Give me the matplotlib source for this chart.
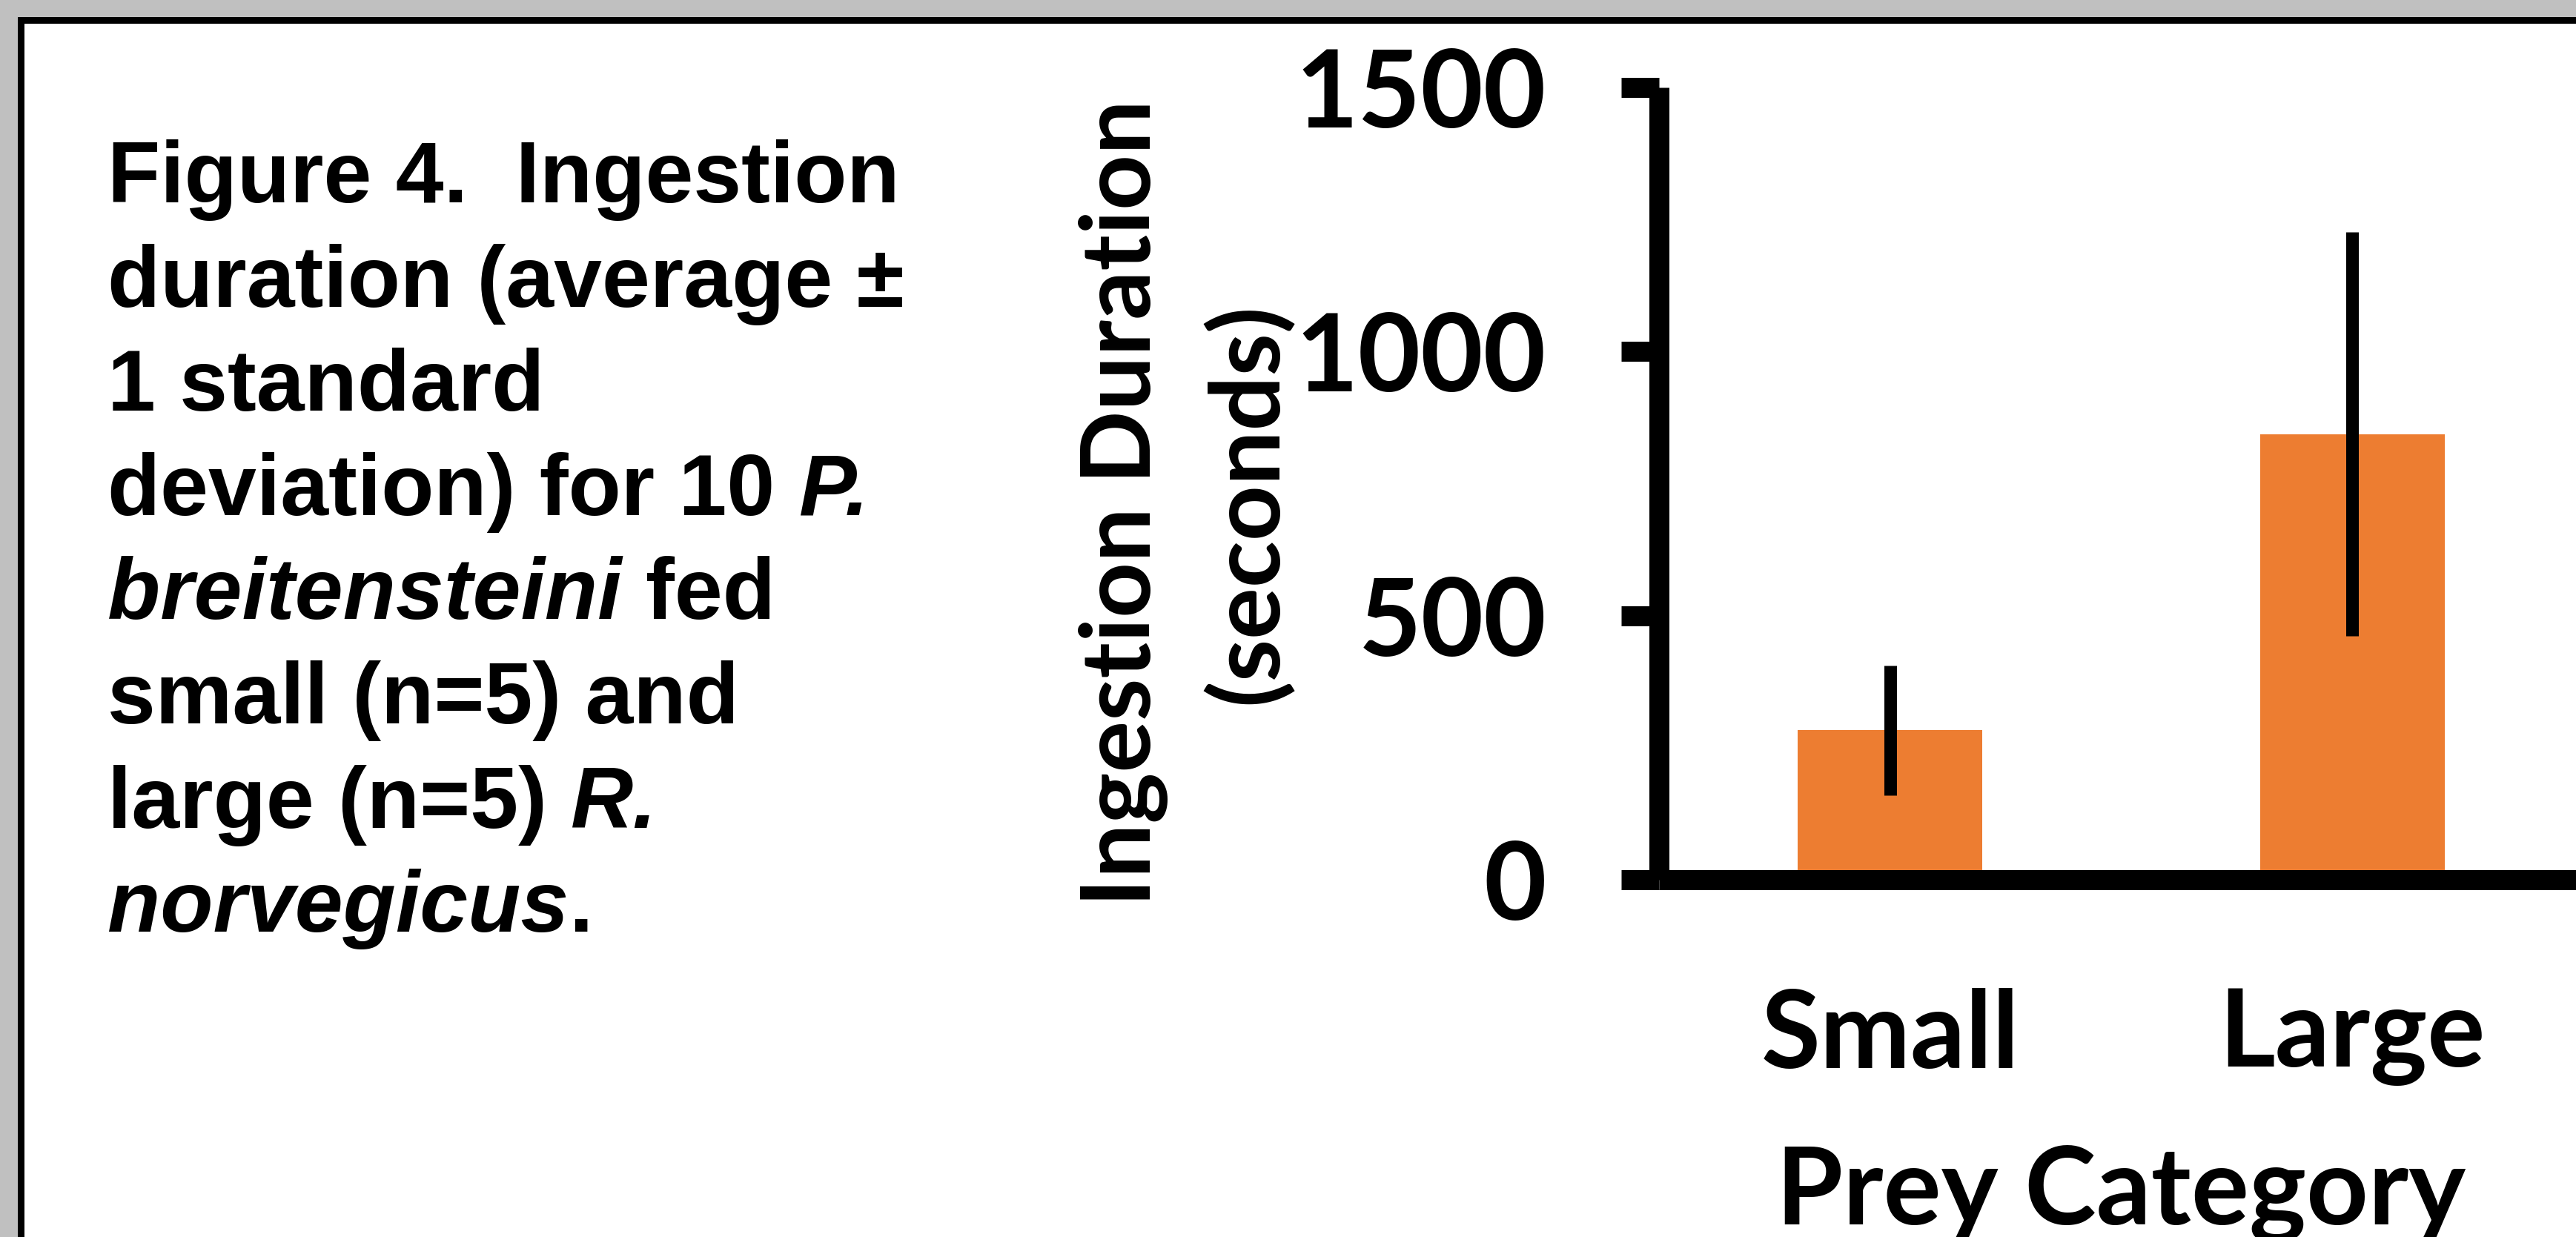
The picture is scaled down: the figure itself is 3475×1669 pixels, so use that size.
import matplotlib
matplotlib.use('Agg')
import matplotlib.pyplot as plt
from matplotlib.patches import Rectangle

W, H = 3475, 1669
DPI = 100

# dados
categories = ['Small', 'Large']
mean_duration = [283, 844]
sd_duration = [123, 382]
y_ticks = [0, 500, 1000, 1500]

# legenda à esquerda: (texto, itálico)
caption_lines = [
    [('Figure 4.  Ingestion', False)],
    [('duration (average \u00b1', False)],
    [('1 standard', False)],
    [('deviation) for 10 ', False), ('P.', True)],
    [('breitensteini', True), (' fed', False)],
    [('small (n=5) and', False)],
    [('large (n=5) ', False), ('R.', True)],
    [('norvegicus', True), ('.', False)],
]


def px2pt(p):
    return p * 72.0 / DPI


plt.rcParams['font.family'] = ['Lato', 'DejaVu Sans']
plt.rcParams['font.weight'] = 'bold'
plt.rcParams['axes.labelweight'] = 'bold'

fig = plt.figure(figsize=(W / DPI, H / DPI), dpi=DPI, facecolor='#c0c0c0')

# moldura branca com borda preta (só topo e esquerda aparecem)
top = 1 - 27.5 / H
frame = Rectangle((28 / W, -0.1), 1.2, top + 0.1, transform=fig.transFigure,
                  facecolor='white', edgecolor='black', linewidth=px2pt(9), zorder=-10)
fig.add_artist(frame)

# eixo do gráfico
ax = fig.add_axes([2238 / W, (H - 1187) / H, 1247 / W, 1069 / H])
ax.patch.set_visible(False)
xpos = list(range(len(categories)))
ax.bar(xpos, mean_duration, width=0.4, color='#ed7d31', zorder=2)
ax.errorbar(xpos, mean_duration, yerr=sd_duration, fmt='none', ecolor='black',
            elinewidth=px2pt(17), capsize=0, zorder=3)

ax.set_xlim(-0.5, 1.5)
ax.set_ylim(0, 1500)
ax.set_yticks(y_ticks)
ax.set_xticks(xpos)
ax.set_xticklabels(categories)

for s in ['top', 'right']:
    ax.spines[s].set_visible(False)
for s in ['left', 'bottom']:
    ax.spines[s].set_linewidth(px2pt(27))
    ax.spines[s].set_capstyle('butt')

ax.tick_params(axis='y', direction='out', length=px2pt(51), width=px2pt(27),
               pad=px2pt(101), labelsize=105, colors='black')
ax.tick_params(axis='x', length=0, pad=px2pt(146), labelsize=105)

ax.set_xlabel('Prey Category', fontsize=105, fontweight='bold')
ax.xaxis.set_label_coords(0.5, (1187 - 1545) / 1069)
ax.set_ylabel('Ingestion Duration\n(seconds)', fontsize=94, fontweight='bold',
              linespacing=1.45)
ax.yaxis.set_label_coords((1745 - 2238) / 1247, (1187 - 679) / 1069)

# texto da legenda, segmento a segmento
renderer = fig.canvas.get_renderer()
CAP_FS = 84


def add_text(xp, yp, s, italic):
    return fig.text(xp / W, 1 - yp / H, s, fontsize=CAP_FS, family='Liberation Sans',
                    weight='bold', style='italic' if italic else 'normal',
                    ha='left', va='baseline')


pa = add_text(0, 0, 'aa', False)
pb = add_text(0, 0, 'a a', False)
space_w = pb.get_window_extent(renderer).width - pa.get_window_extent(renderer).width
pa.remove()
pb.remove()

for i, segs in enumerate(caption_lines):
    cx = 145
    cy = 273 + 140.6 * i
    for text, italic in segs:
        cx += (len(text) - len(text.lstrip(' '))) * space_w
        t = add_text(cx, cy, text.strip(' '), italic)
        cx = t.get_window_extent(renderer).x1
        cx += (len(text) - len(text.rstrip(' '))) * space_w

fig.savefig('out.png', dpi=DPI, facecolor=fig.get_facecolor())
